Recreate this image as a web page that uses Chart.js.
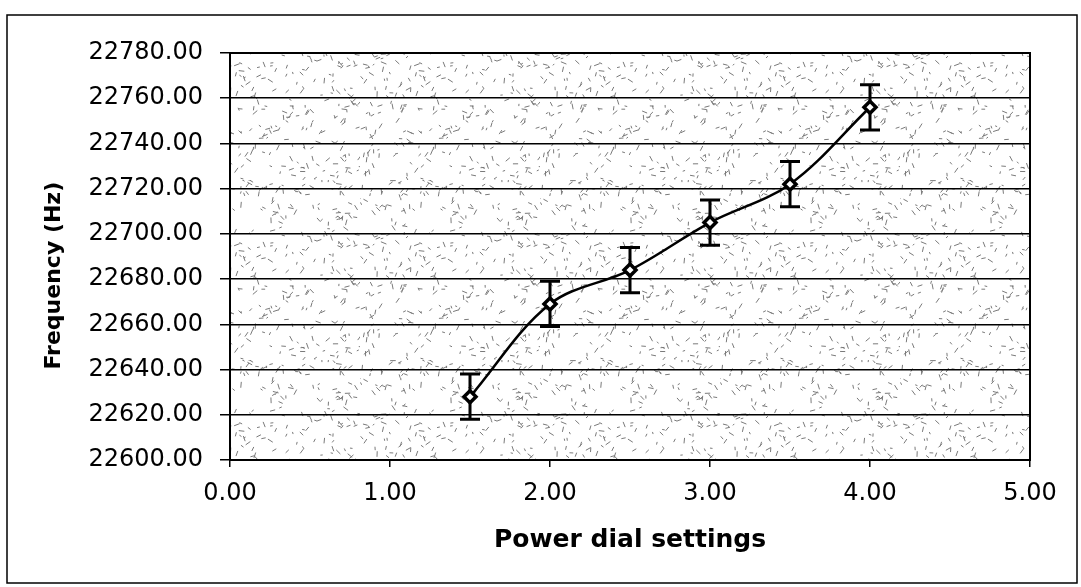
<!DOCTYPE html>
<html>
<head>
<meta charset="utf-8">
<script src="https://cdn.jsdelivr.net/npm/chart.js@4.4.1/dist/chart.umd.min.js"></script>
<style>
  html, body { margin: 0; padding: 0; background: #fff; }
  #wrap { position: relative; width: 1081px; height: 587px; }
</style>
</head>
<body>
<div id="wrap"><canvas id="freqChart"></canvas></div>
<script>
// --- data ---
const dialSettings = [1.5, 2.0, 2.5, 3.0, 3.5, 4.0];
const frequencies = [22628, 22669, 22684, 22705, 22722, 22756];
const freqErrors = [10, 10, 10, 10, 10, 10];

// axis ranges / ticks
const xMin = 0, xMax = 5, xStep = 1;
const yMin = 22600, yMax = 22780, yStep = 20;

Chart.defaults.font.family = "'DejaVu Sans', 'Liberation Sans', sans-serif";
Chart.defaults.color = '#000';

// scanned-paper speckle for the plot background (decoration only)
function makeSpeckle(ctx) {
    const c = document.createElement('canvas');
    c.width = 180; c.height = 180;
    const g = c.getContext('2d');
    g.fillStyle = '#fff';
    g.fillRect(0, 0, c.width, c.height);
    g.strokeStyle = '#7a7a7a';
    g.lineWidth = 1;
    let s = 12345;
    const next = () => (s = (s * 16807) % 2147483647) / 2147483647;
    for (let i = 0; i < 380; i++) {
        const x = next() * c.width, y = next() * c.height;
        const a = next() * Math.PI * 2, len = 2 + next() * 4;
        g.beginPath();
        g.moveTo(x, y);
        g.lineTo(x + Math.cos(a) * len, y + Math.sin(a) * len);
        g.stroke();
    }
    return ctx.createPattern(c, 'repeat');
}

let speckle = null;

const backdropPlugin = {
    id: 'backdrop',
    beforeDraw(chart) {
        const { ctx, chartArea: a } = chart;
        ctx.save();
        ctx.fillStyle = '#fff';
        ctx.fillRect(0, 0, chart.width, chart.height);
        // outer frame of the figure
        ctx.strokeStyle = '#000';
        ctx.lineWidth = 1.5;
        ctx.strokeRect(7, 15, 1070, 568);
        if (!speckle) speckle = makeSpeckle(ctx);
        ctx.fillStyle = speckle;
        ctx.fillRect(a.left, a.top, a.right - a.left, a.bottom - a.top);
        ctx.restore();
    }
};

const errorBarPlugin = {
    id: 'errorBars',
    beforeDatasetsDraw(chart) {
        const { ctx, scales: { x, y }, chartArea: a } = chart;
        ctx.save();
        // plot frame
        ctx.strokeStyle = '#000';
        ctx.lineWidth = 2;
        ctx.strokeRect(a.left, a.top, a.right - a.left, a.bottom - a.top);
        ctx.lineWidth = 3;
        dialSettings.forEach((d, i) => {
            const px = x.getPixelForValue(d);
            const top = y.getPixelForValue(frequencies[i] + freqErrors[i]);
            const bot = y.getPixelForValue(frequencies[i] - freqErrors[i]);
            ctx.beginPath();
            ctx.moveTo(px, top); ctx.lineTo(px, bot);
            ctx.moveTo(px - 10, top); ctx.lineTo(px + 10, top);
            ctx.moveTo(px - 10, bot); ctx.lineTo(px + 10, bot);
            ctx.stroke();
        });
        ctx.restore();
    }
};

const ctx = document.getElementById('freqChart').getContext('2d');
new Chart(ctx, {
    type: 'line',
    data: {
        datasets: [{
            data: dialSettings.map((d, i) => ({ x: d, y: frequencies[i] })),
            borderColor: '#000',
            borderWidth: 2.5,
            tension: 0.35,
            pointStyle: 'rectRot',
            pointRadius: 6,
            pointBorderWidth: 3.5,
            pointBackgroundColor: '#fff',
            pointBorderColor: '#000'
        }]
    },
    options: {
        responsive: true,
        maintainAspectRatio: false,
        animation: false,
        layout: { padding: { top: 53, right: 51, left: 0, bottom: 0 } },
        plugins: { legend: { display: false }, tooltip: { enabled: false } },
        scales: {
            x: {
                type: 'linear', min: xMin, max: xMax,
                afterFit: s => { s.height = 127; },
                ticks: {
                    stepSize: xStep, padding: 12,
                    font: { size: 24 },
                    callback: v => v.toFixed(2)
                },
                grid: { drawOnChartArea: false, tickLength: 7, color: '#000', lineWidth: 1.5 },
                border: { color: '#000', width: 2 },
                title: {
                    display: true, text: 'Power dial settings',
                    font: { size: 25, weight: 'bold' },
                    padding: { top: 0, bottom: 32 }
                }
            },
            y: {
                min: yMin, max: yMax,
                afterFit: s => { s.width = 230; },
                ticks: {
                    stepSize: yStep, padding: 17,
                    font: { size: 24 },
                    callback: v => v.toFixed(2)
                },
                grid: { color: '#000', lineWidth: 1.5, tickLength: 10 },
                border: { color: '#000', width: 2 },
                title: {
                    display: true, text: 'Frequency (Hz)\u00a0\u00a0\u00a0\u00a0\u00a0',
                    font: { size: 22, weight: 'bold' },
                    padding: { top: 41, bottom: 0 }
                }
            }
        }
    },
    plugins: [backdropPlugin, errorBarPlugin]
});
</script>
</body>
</html>
